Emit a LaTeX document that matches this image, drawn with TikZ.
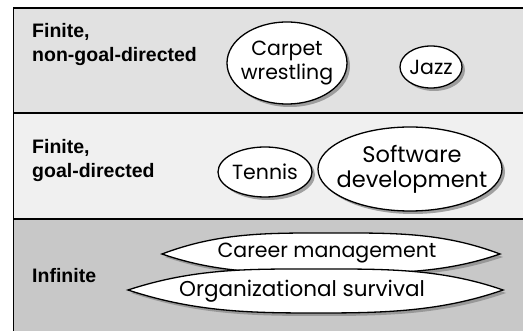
\documentclass[tikz,border=0pt]{standalone}
\usepackage{fontspec}
\setmainfont{Poppins}
\newfontfamily\labelfont{Liberation Sans}
\usetikzlibrary{shadows}

\definecolor{bandtop}{RGB}{225,225,225}
\definecolor{bandmid}{RGB}{240,240,240}
\definecolor{bandlow}{RGB}{200,200,200}

\begin{document}
\begin{tikzpicture}[x=1pt,y=-1pt,
  band/.style={draw=black, line width=1.6pt},
  cat/.style={anchor=base west, align=left, inner sep=0pt,
    font=\labelfont\bfseries\fontsize{19.5}{24}\selectfont},
  act/.style={align=center, inner sep=0pt,
    font=\fontsize{20.5}{24}\selectfont},
  oval/.style={draw=black, line width=1.3pt, fill=white,
    drop shadow={shadow xshift=3pt, shadow yshift=-3pt, fill=black!45, opacity=0.8}},
]
\useasboundingbox (0,0) rectangle (523,331);

% three bands of the frame, open to the right and bottom
\begin{scope}
  \clip (0,0) rectangle (523,331);
  \fill[bandtop] (13.5,8) rectangle (540,113);
  \fill[bandmid] (13.5,113) rectangle (540,219);
  \fill[bandlow] (13.5,219) rectangle (540,345);
  \draw[band] (540,8) -- (13.5,8) -- (13.5,345);
  \draw[band] (13.5,113) -- (540,113);
  \draw[band] (13.5,219) -- (540,219);
\end{scope}

% category labels (anchored on the baseline of their last line)
\node[cat] (fng) at (32,62) {Finite,\\non-goal-directed};
\node[cat] (fg)  at (32,178) {Finite,\\goal-directed};
\node[cat] (inf) at (32,283) {Infinite};

% finite, non-goal-directed activities
\draw[oval] (287,63) ellipse [x radius=60, y radius=41];
\node[act] (carpet) at (287,63) {Carpet\\wrestling};
\draw[oval] (431,67) ellipse [x radius=31, y radius=21];
\node[act] (jazz) at (431,67) {Jazz};

% finite, goal-directed activities
\draw[oval] (265,172) ellipse [x radius=47, y radius=25];
\node[act] (tennis) at (265,172) {Tennis};
\draw[oval] (410,169) ellipse [x radius=92, y radius=42];
\node[act, font=\fontsize{22.5}{25}\selectfont] (soft) at (412,169) {Software\\development};

% infinite activities: long ovals with pointed ends
\draw[oval] (162,254) .. controls (220,232) and (270,233) .. (331,233)
  .. controls (392,233) and (442,232) .. (500,254)
  .. controls (442,274) and (392,273) .. (331,273)
  .. controls (270,273) and (220,274) .. (162,254) -- cycle;
\node[act] (career) at (327,253) {Career management};
\draw[oval] (128,290) .. controls (195,268) and (250,269) .. (316,269)
  .. controls (382,269) and (440,268) .. (503,290)
  .. controls (440,312) and (382,313) .. (316,313)
  .. controls (250,313) and (195,312) .. (128,290) -- cycle;
\node[act, font=\fontsize{21.5}{24}\selectfont] (org) at (302,291) {Organizational survival};
\end{tikzpicture}
\end{document}
